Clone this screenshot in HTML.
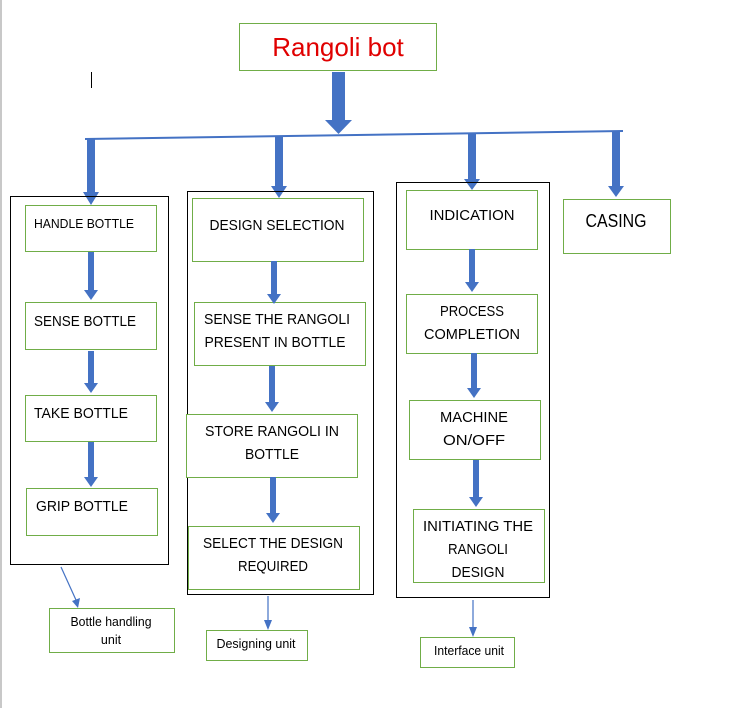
<!DOCTYPE html>
<html><head><meta charset="utf-8"><style>
html,body{margin:0;padding:0;background:#fff;}
svg{display:block;}
text{font-family:"Liberation Sans",sans-serif;fill:#000;}
</style></head><body>
<svg width="731" height="708" viewBox="0 0 731 708" xmlns="http://www.w3.org/2000/svg">
<defs>
<g id="ah"><polygon points="-7,0 7,0 0,10" fill="#4472C4"/></g>
</defs>
<line x1="1" y1="0" x2="1" y2="708" stroke="#c8c8c8" stroke-width="2"/>
<line x1="91.5" y1="72" x2="91.5" y2="88" stroke="#000" stroke-width="1"/>
<!-- title -->
<rect x="239.5" y="23.5" width="197" height="47" fill="#fff" stroke="#70AD47"/>
<text x="338" y="56" text-anchor="middle" font-size="26" style="fill:#E00000">Rangoli bot</text>
<!-- big arrow -->
<rect x="332" y="72" width="13" height="49" fill="#4472C4"/>
<polygon points="325,120 352,120 338.5,134" fill="#4472C4"/>
<line x1="85" y1="139" x2="623" y2="131" stroke="#4472C4" stroke-width="2"/>
<!-- down arrows from line -->
<rect x="87" y="138" width="8" height="56" fill="#4472C4"/><polygon points="83,192 99,192 91,205" fill="#4472C4"/>
<rect x="275" y="136" width="8" height="51" fill="#4472C4"/><polygon points="271,186 287,186 279,198" fill="#4472C4"/>
<rect x="468" y="133" width="8" height="47" fill="#4472C4"/><polygon points="464,179 480,179 472,190" fill="#4472C4"/>
<rect x="612" y="132" width="8" height="55" fill="#4472C4"/><polygon points="608,186 624,186 616,197" fill="#4472C4"/>
<!-- outer boxes -->
<rect x="10.5" y="196.5" width="158" height="368" fill="none" stroke="#000"/>
<rect x="187.5" y="191.5" width="186" height="403" fill="none" stroke="#000"/>
<rect x="396.5" y="182.5" width="153" height="415" fill="none" stroke="#000"/>
<g fill="#fff" stroke="#70AD47">
<rect x="25.5" y="205.5" width="131" height="46"/>
<rect x="25.5" y="302.5" width="131" height="47"/>
<rect x="25.5" y="395.5" width="131" height="46"/>
<rect x="26.5" y="488.5" width="131" height="47"/>
<rect x="192.5" y="198.5" width="171" height="63"/>
<rect x="194.5" y="302.5" width="171" height="63"/>
<rect x="186.5" y="414.5" width="171" height="63"/>
<rect x="188.5" y="526.5" width="171" height="63"/>
<rect x="406.5" y="190.5" width="131" height="59"/>
<rect x="406.5" y="294.5" width="131" height="59"/>
<rect x="409.5" y="400.5" width="131" height="59"/>
<rect x="413.5" y="509.5" width="131" height="73"/>
<rect x="563.5" y="199.5" width="107" height="54"/>
<rect x="49.5" y="608.5" width="125" height="44"/>
<rect x="206.5" y="630.5" width="101" height="30"/>
<rect x="420.5" y="637.5" width="94" height="30"/>
</g>
<!-- small arrows -->
<g fill="#4472C4">
<rect x="88" y="252" width="6" height="39"/><polygon points="84,290 98,290 91,300"/>
<rect x="88" y="351" width="6" height="33"/><polygon points="84,383 98,383 91,393"/>
<rect x="88" y="442" width="6" height="36"/><polygon points="84,477 98,477 91,487"/>
<rect x="271" y="261" width="6" height="34"/><polygon points="267,294 281,294 274,304"/>
<rect x="269" y="366" width="6" height="37"/><polygon points="265,402 279,402 272,412"/>
<rect x="270" y="477" width="6" height="37"/><polygon points="266,513 280,513 273,523"/>
<rect x="469" y="249" width="6" height="34"/><polygon points="465,282 479,282 472,292"/>
<rect x="471" y="353" width="6" height="36"/><polygon points="467,388 481,388 474,398"/>
<rect x="473" y="460" width="6" height="38"/><polygon points="469,497 483,497 476,507"/>
</g>
<!-- thin arrows -->
<g stroke="#4472C4" stroke-width="1.2">
<line x1="61" y1="567" x2="76" y2="600"/>
<line x1="268" y1="596" x2="268" y2="622"/>
<line x1="473" y1="600" x2="473" y2="628"/>
</g>
<g fill="#4472C4">
<polygon points="72,601 80,598 78,608"/>
<polygon points="264,620 272,620 268,630"/>
<polygon points="469,627 477,627 473,637"/>
</g>
<!-- labels -->
<g font-size="13">
<text x="34" y="228" textLength="100" lengthAdjust="spacingAndGlyphs">HANDLE BOTTLE</text>
</g>
<g font-size="15">
<text x="34" y="326" textLength="102" lengthAdjust="spacingAndGlyphs">SENSE BOTTLE</text>
<text x="34" y="418" textLength="94" lengthAdjust="spacingAndGlyphs">TAKE BOTTLE</text>
<text x="36" y="511" textLength="92" lengthAdjust="spacingAndGlyphs">GRIP BOTTLE</text>
<text x="277" y="230" text-anchor="middle" textLength="135" lengthAdjust="spacingAndGlyphs">DESIGN SELECTION</text>
<text x="277" y="324" text-anchor="middle" textLength="146" lengthAdjust="spacingAndGlyphs">SENSE THE RANGOLI</text>
<text x="275" y="347" text-anchor="middle" textLength="141" lengthAdjust="spacingAndGlyphs">PRESENT IN BOTTLE</text>
<text x="272" y="436" text-anchor="middle" textLength="134" lengthAdjust="spacingAndGlyphs">STORE RANGOLI IN</text>
<text x="272" y="459" text-anchor="middle" textLength="54" lengthAdjust="spacingAndGlyphs">BOTTLE</text>
<text x="273" y="548" text-anchor="middle" textLength="140" lengthAdjust="spacingAndGlyphs">SELECT THE DESIGN</text>
<text x="273" y="571" text-anchor="middle" textLength="70" lengthAdjust="spacingAndGlyphs">REQUIRED</text>
<text x="472" y="220" text-anchor="middle" textLength="85" lengthAdjust="spacingAndGlyphs">INDICATION</text>
<text x="472" y="316" text-anchor="middle" textLength="64" lengthAdjust="spacingAndGlyphs">PROCESS</text>
<text x="472" y="339" text-anchor="middle" textLength="96" lengthAdjust="spacingAndGlyphs">COMPLETION</text>
<text x="474" y="422" text-anchor="middle" textLength="68" lengthAdjust="spacingAndGlyphs">MACHINE</text>
<text x="474" y="445" text-anchor="middle" textLength="62" lengthAdjust="spacingAndGlyphs">ON/OFF</text>
<text x="478" y="531" text-anchor="middle" textLength="110" lengthAdjust="spacingAndGlyphs">INITIATING THE</text>
<text x="478" y="554" text-anchor="middle" textLength="60" lengthAdjust="spacingAndGlyphs">RANGOLI</text>
<text x="478" y="577" text-anchor="middle" textLength="53" lengthAdjust="spacingAndGlyphs">DESIGN</text>
</g>
<text x="616" y="227" text-anchor="middle" font-size="18" textLength="61" lengthAdjust="spacingAndGlyphs">CASING</text>
<g font-size="12.5">
<text x="111" y="626" text-anchor="middle" textLength="81" lengthAdjust="spacingAndGlyphs">Bottle handling</text>
<text x="111" y="644" text-anchor="middle">unit</text>
<text x="256" y="648" text-anchor="middle" textLength="79" lengthAdjust="spacingAndGlyphs">Designing unit</text>
<text x="469" y="655" text-anchor="middle" textLength="70" lengthAdjust="spacingAndGlyphs">Interface unit</text>
</g>
</svg>
</body></html>
